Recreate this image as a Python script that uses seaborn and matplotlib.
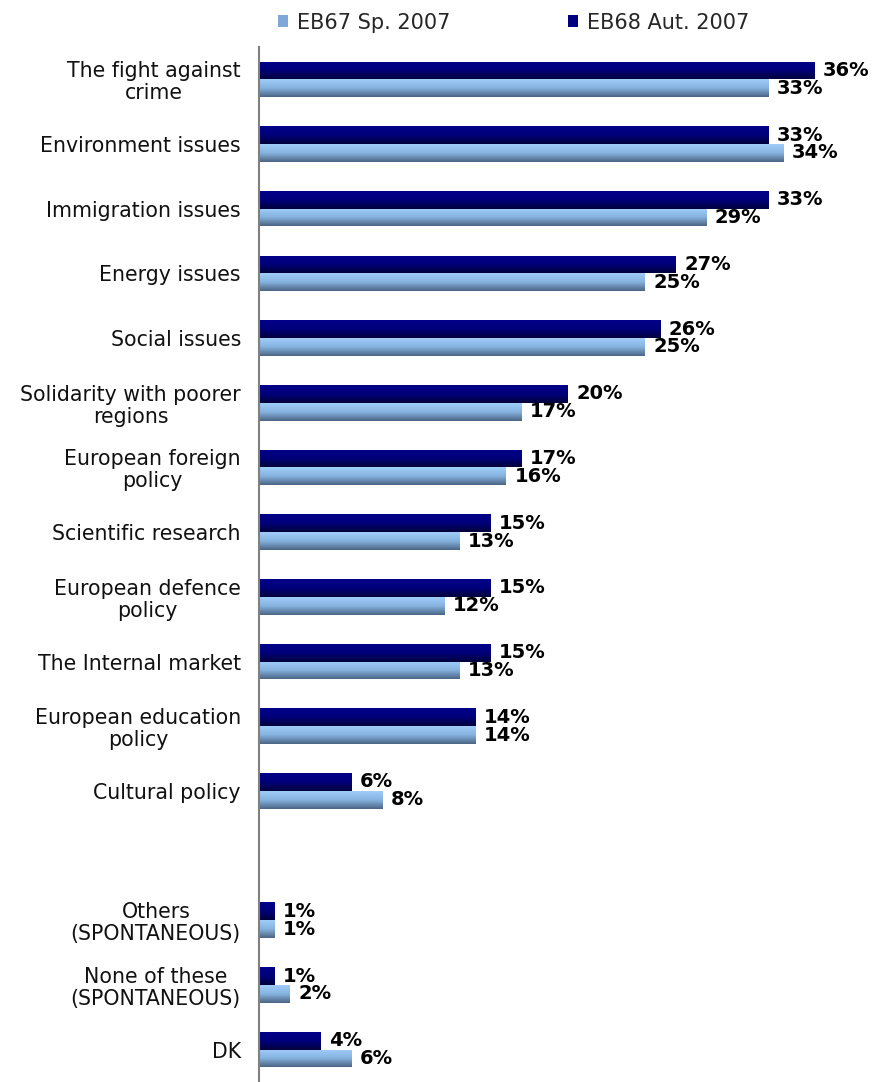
import numpy as np
import pandas as pd
import seaborn as sns
import matplotlib
matplotlib.use("Agg")
import matplotlib.pyplot as plt
from matplotlib.colors import LinearSegmentedColormap, to_rgb
from matplotlib.patches import Patch

# ---- data -------------------------------------------------------------
items = [
    "The fight against\ncrime",
    "Environment issues",
    "Immigration issues",
    "Energy issues",
    "Social issues",
    "Solidarity with poorer\nregions",
    "European foreign\npolicy",
    "Scientific research",
    "European defence\npolicy",
    "The Internal market",
    "European education\npolicy",
    "Cultural policy",
    "Others\n(SPONTANEOUS)",
    "None of these\n(SPONTANEOUS)",
    "DK",
]
eb68_aut_2007 = [36, 33, 33, 27, 26, 20, 17, 15, 15, 15, 14, 6, 1, 1, 4]
eb67_sp_2007 = [33, 34, 29, 25, 25, 17, 16, 13, 12, 13, 14, 8, 1, 2, 6]

wave_spring = "EB67 Sp. 2007"
wave_autumn = "EB68 Aut. 2007"

# blank slot separating the listed policies from the spontaneous answers
order = items[:12] + [" "] + items[12:]

df = pd.DataFrame({
    "item": items * 2,
    "value": eb68_aut_2007 + eb67_sp_2007,
    "wave": [wave_autumn] * len(items) + [wave_spring] * len(items),
})

# ---- styling ----------------------------------------------------------
sns.set_style("white")
plt.rcParams["font.family"] = ["DejaVu Sans"]

navy = "#000080"
sky = "#7fa8d8"
palette = {wave_autumn: navy, wave_spring: sky}
gradients = {
    navy: LinearSegmentedColormap.from_list("navy", ["#00008a", "#00007a", "#00003c"]),
    sky: LinearSegmentedColormap.from_list("sky", ["#9fcdf8", "#86b2df", "#4b6584"]),
}

fig = plt.figure(figsize=(8.78, 10.82), dpi=100)
ax = fig.add_axes([0.295, 0.0, 0.705, 0.9566])

sns.barplot(
    data=df, x="value", y="item", hue="wave", order=order,
    hue_order=[wave_autumn, wave_spring], palette=palette,
    orient="h", width=0.55, saturation=1, legend=False, ax=ax,
)

xlim = (0, 40.1)
ylim = (15.4, -0.5)

# vertical gradient fill clipped to each bar
grad = np.linspace(0, 1, 64).reshape(-1, 1)
for patch in list(ax.patches):
    w = patch.get_width()
    if not np.isfinite(w) or w == 0:
        continue
    fc = to_rgb(patch.get_facecolor())
    key = navy if np.allclose(fc, to_rgb(navy), atol=0.05) else sky
    x0, y0, h = patch.get_x(), patch.get_y(), patch.get_height()
    im = ax.imshow(grad, cmap=gradients[key], aspect="auto", origin="upper",
                   extent=(x0, x0 + w, y0 + h, y0), zorder=patch.get_zorder(),
                   interpolation="bilinear")
    im.set_clip_path(patch)
    patch.set_facecolor("none")
    patch.set_edgecolor("none")

for container in ax.containers:
    ax.bar_label(container, labels=[f"{v:.0f}%" for v in container.datavalues],
                 padding=6, fontsize=14, fontweight="bold", color="black")

ax.set_xlim(*xlim)
ax.set_ylim(*ylim)

# axes decoration
ax.set_xlabel("")
ax.set_ylabel("")
ax.set_xticks([])
for side in ("top", "right", "bottom"):
    ax.spines[side].set_visible(False)
ax.spines["left"].set_color("#808080")
ax.spines["left"].set_linewidth(1.5)

ax.set_yticks(range(len(order)))
ax.set_yticklabels(order, fontsize=14.8, color="#111111", linespacing=1.12)
for lbl in ax.get_yticklabels():
    lbl.set_multialignment("center")
ax.tick_params(axis="y", which="major", length=0, pad=13)
ax.set_yticks(np.arange(-0.5, len(order), 1.0), minor=True)
ax.tick_params(axis="y", which="minor", length=6, width=1.2, color="#333333",
               direction="out")

handles = [Patch(facecolor=sky, edgecolor="none", label=wave_spring),
           Patch(facecolor=navy, edgecolor="none", label=wave_autumn)]
fig.legend(handles=handles, loc="center", bbox_to_anchor=(0.585, 0.979),
           ncol=2, frameon=False, fontsize=15, handlelength=0.5,
           handleheight=0.5, handletextpad=0.45, columnspacing=5.6)

fig.savefig("out.png", dpi=100)
